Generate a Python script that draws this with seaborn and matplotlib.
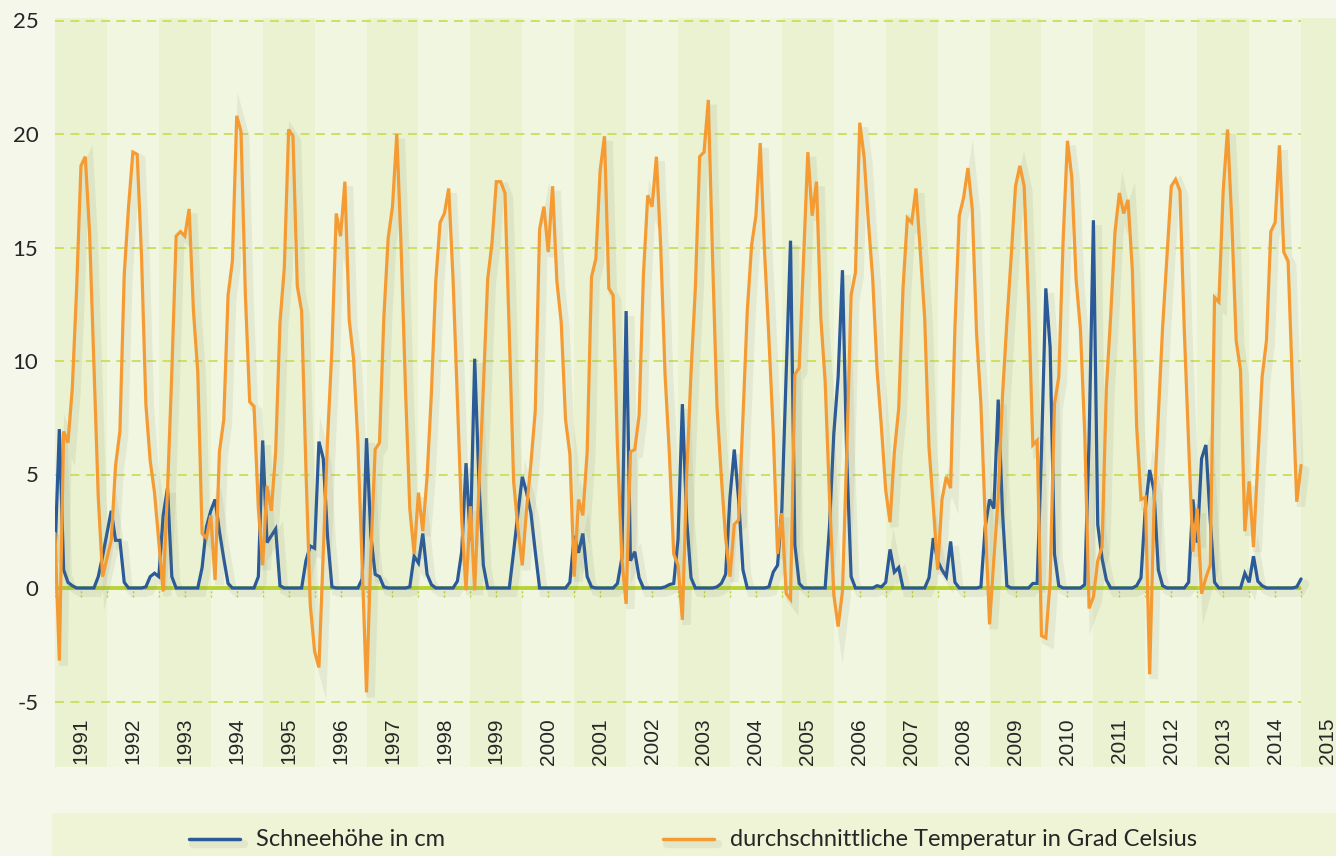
import numpy as np
import pandas as pd
import matplotlib.pyplot as plt
import matplotlib.patheffects as pe
from matplotlib.lines import Line2D
from matplotlib.patches import Rectangle
import seaborn as sns

# Monatswerte Jan 1991 - Jan 2015
schneehoehe = [
    1.5, 7.0, 0.8, 0.25, 0.1, 0, 0, 0, 0, 0, 0.5, 1.4,        # 1991
    2.4, 3.4, 2.1, 2.1, 0.25, 0, 0, 0, 0, 0.05, 0.5, 0.65,    # 1992
    0.5, 3.2, 4.4, 0.5, 0, 0, 0, 0, 0, 0, 0.9, 2.7,           # 1993
    3.4, 3.9, 2.5, 1.3, 0.2, 0, 0, 0, 0, 0, 0, 0.5,           # 1994
    6.5, 2.0, 2.3, 2.6, 0.1, 0, 0, 0, 0, 0, 1.2, 1.85,        # 1995
    1.75, 6.45, 5.7, 2.25, 0.05, 0, 0, 0, 0, 0, 0, 0.4,       # 1996
    6.6, 2.3, 0.6, 0.5, 0.05, 0, 0, 0, 0, 0, 0.05, 1.4,       # 1997
    1.1, 2.4, 0.6, 0.15, 0, 0, 0, 0, 0, 0.3, 1.6, 5.5,        # 1998
    2.1, 10.1, 4.6, 1.0, 0, 0, 0, 0, 0, 0, 1.6, 3.3,          # 1999
    4.9, 4.2, 3.3, 1.6, 0, 0, 0, 0, 0, 0, 0, 0.25,            # 2000
    2.3, 1.55, 2.4, 0.5, 0.05, 0, 0, 0, 0, 0, 0.2, 1.3,       # 2001
    12.2, 1.2, 1.6, 0.45, 0, 0, 0, 0, 0, 0.05, 0.15, 0.2,     # 2002
    2.15, 8.1, 3.0, 0.45, 0, 0, 0, 0, 0, 0.05, 0.2, 0.6,      # 2003
    4.0, 6.1, 3.9, 0.8, 0, 0, 0, 0, 0, 0.05, 0.7, 1.0,        # 2004
    3.5, 9.5, 15.3, 1.9, 0.2, 0, 0, 0, 0, 0, 0, 2.7,          # 2005
    6.8, 9.3, 14.0, 5.7, 0.5, 0, 0, 0, 0, 0, 0.1, 0.05,       # 2006
    0.25, 1.7, 0.7, 0.9, 0, 0, 0, 0, 0, 0, 0.45, 2.2,         # 2007
    1.2, 0.8, 0.5, 2.05, 0.25, 0, 0, 0, 0, 0, 0.05, 2.7,      # 2008
    3.9, 3.5, 8.3, 3.3, 0.1, 0, 0, 0, 0, 0, 0.2, 0.2,         # 2009
    6.0, 13.2, 10.6, 1.5, 0.1, 0, 0, 0, 0, 0, 0.15, 6.5,      # 2010
    16.2, 2.8, 1.3, 0.35, 0, 0, 0, 0, 0, 0, 0.1, 0.45,        # 2011
    3.5, 5.2, 4.3, 0.8, 0.1, 0, 0, 0, 0, 0, 0.25, 3.9,        # 2012
    2.0, 5.7, 6.3, 3.0, 0.25, 0, 0, 0, 0, 0, 0, 0.65,         # 2013
    0.25, 1.4, 0.3, 0.1, 0, 0, 0, 0, 0, 0, 0, 0.05,           # 2014
    0.4,                                                      # 2015
]

temperatur = [
    2.4, -3.2, 6.9, 6.4, 8.8, 13.2, 18.6, 19.0, 15.6, 9.8, 4.0, 0.5,
    1.3, 2.1, 5.4, 6.9, 13.8, 16.8, 19.2, 19.1, 14.6, 8.1, 5.6, 4.2,
    2.0, -0.15, 4.3, 9.5, 15.5, 15.7, 15.5, 16.7, 12.2, 9.5, 2.4, 2.2,
    3.2, 0.35, 6.0, 7.4, 12.9, 14.4, 20.8, 20.1, 12.9, 8.2, 8.0, 3.5,
    1.0, 4.5, 3.4, 6.0, 11.7, 14.1, 20.2, 19.9, 13.3, 12.2, 5.2, -0.75,
    -2.8, -3.5, 1.5, 6.6, 10.5, 16.5, 15.5, 17.9, 11.8, 10.1, 6.4, 1.0,
    -4.6, 1.5, 6.1, 6.4, 11.9, 15.4, 16.8, 20.0, 15.0, 8.8, 3.5, 1.5,
    4.2, 2.5, 4.9, 8.6, 13.5, 16.1, 16.5, 17.6, 13.6, 8.3, 3.0, -0.1,
    3.6, -0.1, 4.5, 8.8, 13.6, 15.2, 17.9, 17.9, 17.4, 11.2, 4.7, 2.6,
    1.0, 3.5, 5.5, 7.8, 15.8, 16.8, 14.8, 17.7, 13.5, 11.7, 7.4, 5.9,
    0.5, 3.9, 3.2, 6.0, 13.7, 14.5, 18.4, 19.9, 13.2, 12.9, 6.2, 1.3,
    -0.7, 6.0, 6.1, 7.6, 13.8, 17.3, 16.8, 19.0, 15.0, 9.4, 5.9, 1.5,
    1.0, -1.4, 5.0, 9.5, 13.2, 19.0, 19.2, 21.5, 14.4, 8.0, 4.9, 2.2,
    0.5, 2.8, 3.0, 7.5, 12.2, 15.1, 16.4, 19.6, 14.8, 11.0, 6.9, 1.5,
    3.3, -0.25, -0.5, 9.4, 9.7, 14.4, 19.2, 16.4, 17.9, 11.9, 9.1, 4.0,
    -0.3, -1.7, -0.15, 6.0, 12.9, 13.9, 20.5, 19.0, 16.1, 13.6, 9.6, 7.1,
    4.3, 2.9, 6.0, 7.9, 13.2, 16.3, 16.1, 17.6, 14.8, 11.9, 6.2, 3.6,
    0.8, 3.9, 4.9, 4.4, 11.5, 16.4, 17.2, 18.5, 16.7, 11.2, 8.1, 3.0,
    -1.6, 1.3, 4.0, 8.5, 11.7, 14.6, 17.7, 18.6, 17.7, 12.6, 6.3, 6.5,
    -2.1, -2.2, 0.3, 8.1, 9.3, 15.3, 19.7, 18.1, 13.6, 11.4, 6.8, -0.9,
    -0.4, 1.2, 1.8, 8.8, 12.0, 15.7, 17.4, 16.5, 17.1, 14.0, 7.1, 3.9,
    4.0, -3.8, 3.5, 7.6, 11.5, 14.6, 17.7, 18.0, 17.5, 11.4, 6.4, 1.6,
    3.5, -0.25, 0.45, 1.0, 12.8, 12.6, 17.5, 20.2, 16.1, 10.9, 9.6, 2.5,
    4.7, 1.8, 5.6, 9.3, 10.9, 15.7, 16.1, 19.5, 14.8, 14.4, 9.0, 3.8,
    5.4,
]

jahre = list(range(1991, 2016))
y_ticks = [-5, 0, 5, 10, 15, 20, 25]
reihen = ['Schneehöhe in cm', 'durchschnittliche Temperatur in Grad Celsius']

BG = '#F5F7EA'
BAND_DARK = '#EAF2D2'
BAND_LIGHT = '#F1F6E0'
LEGEND_BG = '#EEF4D5'
GRID = '#CBDD5A'
ZERO = '#B8D334'
BLUE = '#2A5A98'
ORANGE = '#F59B33'
TXT = '#262626'

sns.set_style('white')

datum = pd.date_range('1991-01-01', periods=len(schneehoehe), freq='MS')
x_jahr = datum.year + (datum.month - 1) / 12
df = pd.concat([
    pd.DataFrame({'x': x_jahr, 'wert': schneehoehe, 'reihe': reihen[0]}),
    pd.DataFrame({'x': x_jahr, 'wert': temperatur, 'reihe': reihen[1]}),
])

W, H = 1336, 856
fig = plt.figure(figsize=(W / 100, H / 100), dpi=100, facecolor=BG)
ax = fig.add_axes([55 / W, 89 / H, 1 - 55 / W, 749 / H])
ax.set_facecolor(BAND_LIGHT)
x_max = 1991 + (W - 55) / 51.92
ax.set_xlim(1991, x_max)
ax.set_ylim((588 - 767) / 22.7, (588 - 18) / 22.7)

# Jahresbänder
for k, jahr in enumerate(jahre):
    ende = jahr + 1 if jahr < 2015 else x_max
    ax.axvspan(jahr, ende, color=BAND_DARK if k % 2 == 0 else BAND_LIGHT,
               lw=0, zorder=0)

# Gitter
for v in y_ticks:
    if v == 0:
        continue
    ax.hlines(v, 1991, 2015, colors=GRID, linestyles=(0, (5, 3.5)),
              lw=1.3, zorder=1)
ax.hlines(0, 1991, 2015, colors=ZERO, lw=2.8, zorder=2)
halbjahre = np.arange(1991, 2015.01, 0.5)
ax.vlines(halbjahre, -0.38, 0, colors=ZERO, lw=1.0,
          linestyles=(0, (1.5, 1.5)), zorder=2)

# Linien
n_vorher = len(ax.lines)
sns.lineplot(data=df, x='x', y='wert', hue='reihe', hue_order=reihen,
             palette=[BLUE, ORANGE], estimator=None, sort=False,
             linewidth=2.3, legend=False, ax=ax, zorder=4)
schatten = [pe.SimpleLineShadow(offset=(3, -3.5), shadow_color='#7d8160',
                                alpha=0.11, linewidth=6), pe.Normal()]
for line in ax.lines[n_vorher:]:
    line.set_path_effects(schatten)
    line.set_solid_joinstyle('miter')

# Jahresbeschriftungen
for jahr in jahre:
    ax.text(jahr + 0.5, (588 - 718) / 22.7, str(jahr), rotation=90,
            ha='center', va='top', fontsize=15, family='Liberation Sans',
            color=TXT, clip_on=True, zorder=5)

ax.set_xticks([])
ax.set_yticks(y_ticks)
ax.set_yticklabels([str(v) for v in y_ticks], family='Lato', fontsize=16,
                   color=TXT)
ax.tick_params(axis='y', length=0, pad=12)
ax.set_xlabel('')
ax.set_ylabel('')
for s in ax.spines.values():
    s.set_visible(False)

# Legende
fig.add_artist(Rectangle((52 / W, 0), 1 - 52 / W, 43 / H,
                         transform=fig.transFigure, facecolor=LEGEND_BG,
                         lw=0, zorder=0))
y_leg = 1 - 839 / H
for (x0, x1, xt), farbe, name in zip([(189, 240, 256), (663, 714, 730)],
                                     [BLUE, ORANGE], reihen):
    fig.add_artist(Line2D([x0 / W, x1 / W], [y_leg, y_leg],
                          transform=fig.transFigure, color=farbe, lw=2.5,
                          path_effects=schatten))
    fig.text(xt / W, y_leg, name, ha='left', va='center', family='Lato',
             fontsize=17, color=TXT)

fig.savefig('out.png', dpi=100, facecolor=BG)
